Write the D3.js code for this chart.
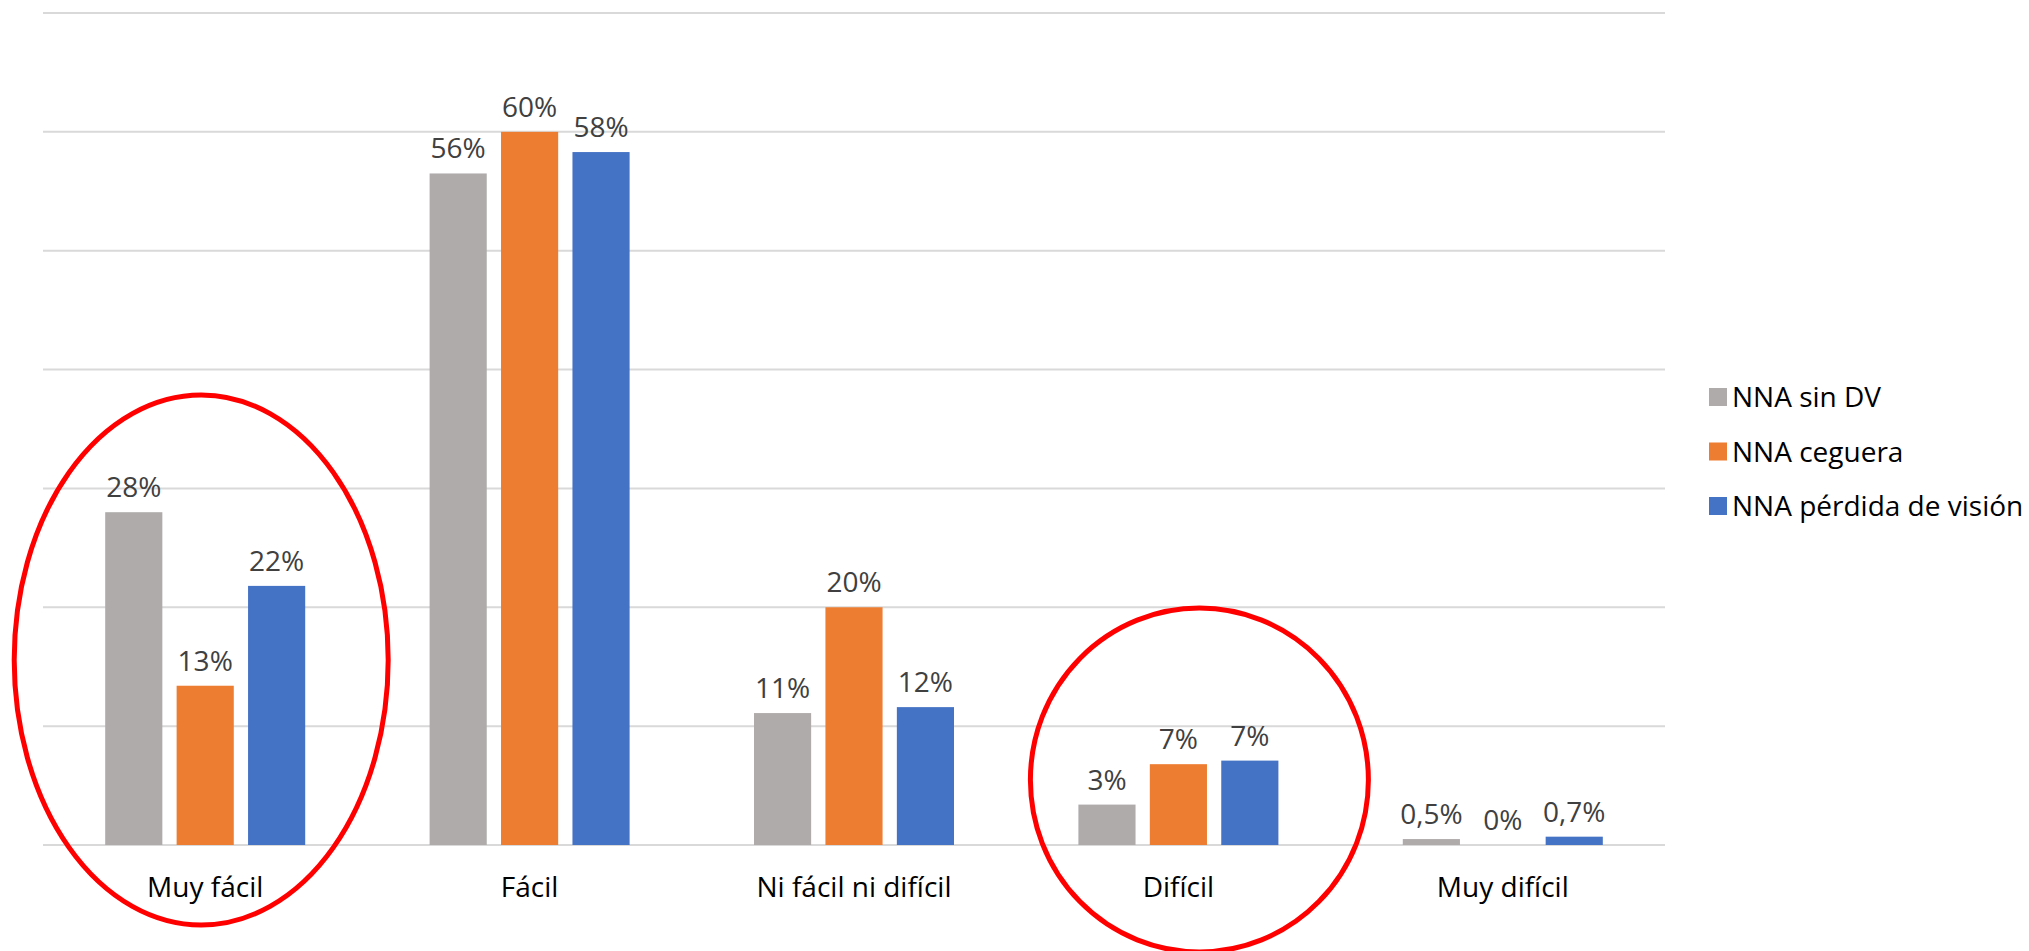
<!DOCTYPE html>
<html>
<head>
<meta charset="utf-8">
<script src="https://cdn.jsdelivr.net/npm/d3@7"></script>
<style>
  body { margin: 0; background: #fff; }
  .chart { font-family: "Open Sans", "Noto Sans", sans-serif; }
</style>
</head>
<body>
<svg class="chart"></svg>
<script>
//valores, en %
var categories = ["Muy fácil", "Fácil", "Ni fácil ni difícil", "Difícil", "Muy difícil"],
  seriesNames = ["NNA sin DV", "NNA ceguera", "NNA pérdida de visión"],
  sinDV = [28, 56.5, 11.1, 3.4, 0.5],
  ceguera = [13.4, 60, 20, 6.8, 0],
  perdida = [21.8, 58.3, 11.6, 7.1, 0.7],
  sinDVLabels = ["28%", "56%", "11%", "3%", "0,5%"],
  cegueraLabels = ["13%", "60%", "20%", "7%", "0%"],
  perdidaLabels = ["22%", "58%", "12%", "7%", "0,7%"],
  gridTicks = [0, 10, 20, 30, 40, 50, 60, 70],
  colors = ["#AFABAB", "#ED7D31", "#4472C4"];

var Chart = (function(){

  var that = {},
    svg,
    x0,
    x1,
    y,
    width = 2029,
    height = 951,
    plot = {left: 43, right: 1665, top: 13, bottom: 845},
    groupWidth = 200;

  function initialize(){
    svg = d3.select(".chart")
            .attr("width", width)
            .attr("height", height)

    makeScales();
    makeGrid();
    makeBars();
    makeCategoryLabels();
    makeLegend();
    makeCircles();
  }

  function makeScales(){
    x0 = d3.scaleBand()
           .domain(categories)
           .range([plot.left, plot.right])
    x1 = d3.scaleBand()
           .domain(seriesNames)
           .range([0, groupWidth])
           .paddingInner(0.2)
    y = d3.scaleLinear()
          .domain([0, 70])
          .range([plot.bottom, plot.top])
  }

  function makeGrid(){
    svg.append("g")
       .selectAll("line")
       .data(gridTicks)
       .enter().append("line")
       .attr("x1", plot.left)
       .attr("x2", plot.right)
       .attr("y1", function(d){ return y(d) })
       .attr("y2", function(d){ return y(d) })
       .attr("stroke", "#D9D9D9")
       .attr("stroke-width", 2)
  }

  function makeBars(){
    var allValues = [sinDV, ceguera, perdida],
      allLabels = [sinDVLabels, cegueraLabels, perdidaLabels],
      offset = (x0.bandwidth() - groupWidth) / 2;

    var rows = categories.map(function(c, i){
      return seriesNames.map(function(s, j){
        return {cat: c, serie: s, value: allValues[j][i], label: allLabels[j][i], color: colors[j]};
      });
    });

    var groups = svg.selectAll(".group")
                    .data(rows)
                    .enter().append("g")
                    .attr("class", "group")
                    .attr("transform", function(d, i){
                      return "translate(" + (x0(categories[i]) + offset) + ",0)"
                    })

    groups.selectAll("rect")
          .data(function(d){ return d })
          .enter().append("rect")
          .attr("x", function(d){ return x1(d.serie) })
          .attr("y", function(d){ return y(d.value) })
          .attr("width", x1.bandwidth())
          .attr("height", function(d){ return plot.bottom - y(d.value) })
          .attr("fill", function(d){ return d.color })

    groups.selectAll("text")
          .data(function(d){ return d })
          .enter().append("text")
          .attr("x", function(d){ return x1(d.serie) + x1.bandwidth() / 2 })
          .attr("y", function(d){ return y(d.value) - 15 })
          .attr("text-anchor", "middle")
          .attr("font-size", "28px")
          .attr("fill", "#404040")
          .text(function(d){ return d.label })
  }

  function makeCategoryLabels(){
    svg.append("g")
       .selectAll("text")
       .data(categories)
       .enter().append("text")
       .attr("x", function(d){ return x0(d) + x0.bandwidth() / 2 })
       .attr("y", plot.bottom + 52)
       .attr("text-anchor", "middle")
       .attr("font-size", "28px")
       .attr("fill", "#000")
       .text(function(d){ return d })
  }

  function makeLegend(){
    var legend = svg.append("g")
                    .attr("transform", "translate(1709,397)")

    var items = legend.selectAll("g")
                      .data(seriesNames)
                      .enter().append("g")
                      .attr("transform", function(d, i){ return "translate(0," + (i * 54.5) + ")" })

    items.append("rect")
         .attr("x", 0)
         .attr("y", -9)
         .attr("width", 18)
         .attr("height", 18)
         .attr("fill", function(d, i){ return colors[i] })

    items.append("text")
         .attr("x", 23)
         .attr("y", 10)
         .attr("font-size", "28px")
         .attr("fill", "#000")
         .text(function(d){ return d })
  }

  //circulos rojos marcando "Muy fácil" y "Difícil"
  function makeCircles(){
    var marked = [
      {cat: "Muy fácil", dx: -4, cy: 660, rx: 187, ry: 265},
      {cat: "Difícil", dx: 21, cy: 780, rx: 169, ry: 172}
    ];

    svg.append("g")
       .selectAll("ellipse")
       .data(marked)
       .enter().append("ellipse")
       .attr("cx", function(d){ return x0(d.cat) + x0.bandwidth() / 2 + d.dx })
       .attr("cy", function(d){ return d.cy })
       .attr("rx", function(d){ return d.rx })
       .attr("ry", function(d){ return d.ry })
       .attr("fill", "none")
       .attr("stroke", "#FF0000")
       .attr("stroke-width", 5)
  }

  that.init = initialize;
  return that

})();

Chart.init();
</script>
</body>
</html>
